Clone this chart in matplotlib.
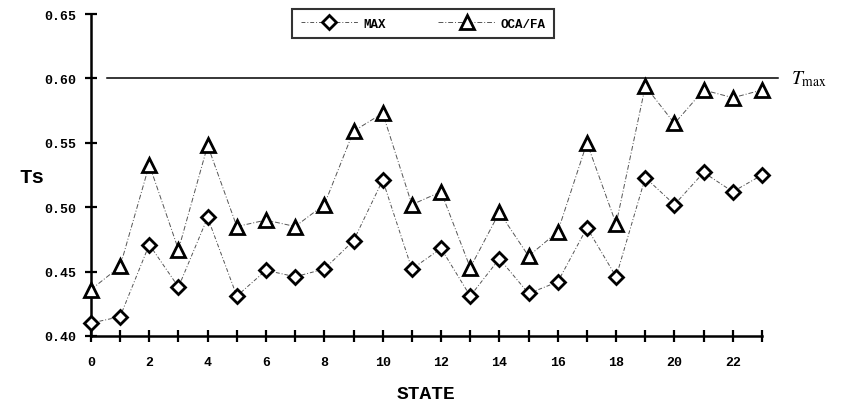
import matplotlib.pyplot as plt

# Values
states = list(range(24))
ts_max = [0.410, 0.415, 0.471, 0.438, 0.492, 0.431, 0.451, 0.446, 0.452, 0.474,
          0.521, 0.452, 0.468, 0.431, 0.460, 0.433, 0.442, 0.484, 0.446, 0.523,
          0.502, 0.527, 0.512, 0.525]
ts_oca = [0.436, 0.454, 0.533, 0.467, 0.548, 0.485, 0.490, 0.485, 0.502, 0.559,
          0.573, 0.502, 0.512, 0.453, 0.496, 0.462, 0.481, 0.550, 0.487, 0.594,
          0.565, 0.591, 0.585, 0.591]
t_max = 0.60

mono = 'Liberation Mono'
plt.rcParams['mathtext.fontset'] = 'stix'

fig = plt.figure(figsize=(8.42, 4.06), dpi=100)
ax = fig.add_axes([0.108, 0.170, 0.797, 0.793])

# Tmax reference line, runs a bit past the last state
ax.plot([0.55, 23.55], [t_max, t_max], color='black', linewidth=1.1, clip_on=False)
ax.text(24.0, t_max, r'$T_{\mathrm{max}}$', fontsize=14, va='center', ha='left')

ax.plot(states, ts_max, linestyle=(0, (4, 2, 1, 2)), color='#555555', linewidth=0.7,
        marker='D', markersize=7.5, markerfacecolor='white', markeredgecolor='black',
        markeredgewidth=2.0, label='MAX', clip_on=False, zorder=3)
ax.plot(states, ts_oca, linestyle=(0, (5, 2, 1, 2)), color='#555555', linewidth=0.7,
        marker='^', markersize=9.5, markerfacecolor='white', markeredgecolor='black',
        markeredgewidth=2.0, label='OCA/FA', clip_on=False, zorder=3)

ax.set_xlim(0, 23)
ax.set_ylim(0.40, 0.65)
ax.set_xticks(states, minor=True)
ax.set_xticks(range(0, 24, 2))
ax.set_yticks([0.40, 0.45, 0.50, 0.55, 0.60, 0.65])
ax.set_yticklabels(['0.40', '0.45', '0.50', '0.55', '0.60', '0.65'])

for side in ['top', 'right']:
    ax.spines[side].set_visible(False)
for side in ['left', 'bottom']:
    ax.spines[side].set_linewidth(1.8)

ax.tick_params(which='both', direction='inout', length=9, width=1.6)
ax.tick_params(axis='x', labelsize=9.5, pad=10)
ax.tick_params(axis='y', labelsize=9.5, pad=6)
for lbl in ax.get_xticklabels() + ax.get_yticklabels():
    lbl.set_family(mono)
    lbl.set_fontweight('bold')

ax.set_xlabel('STATE', family=mono, fontweight='bold', fontsize=14, labelpad=12)
ax.set_ylabel('Ts', family=mono, fontweight='bold', fontsize=15,
              rotation=0, va='center', ha='center')
ax.yaxis.set_label_coords(-0.088, 0.494)

leg = ax.legend(loc='upper center', bbox_to_anchor=(0.495, 1.016), ncol=2,
                frameon=True, fancybox=False, edgecolor='black',
                prop={'family': mono, 'weight': 'bold', 'size': 9},
                handlelength=4.6, handletextpad=0.4, columnspacing=4.2,
                borderpad=0.7, borderaxespad=0)
leg.get_frame().set_linewidth(1.5)

fig.savefig('out.png', dpi=100)
